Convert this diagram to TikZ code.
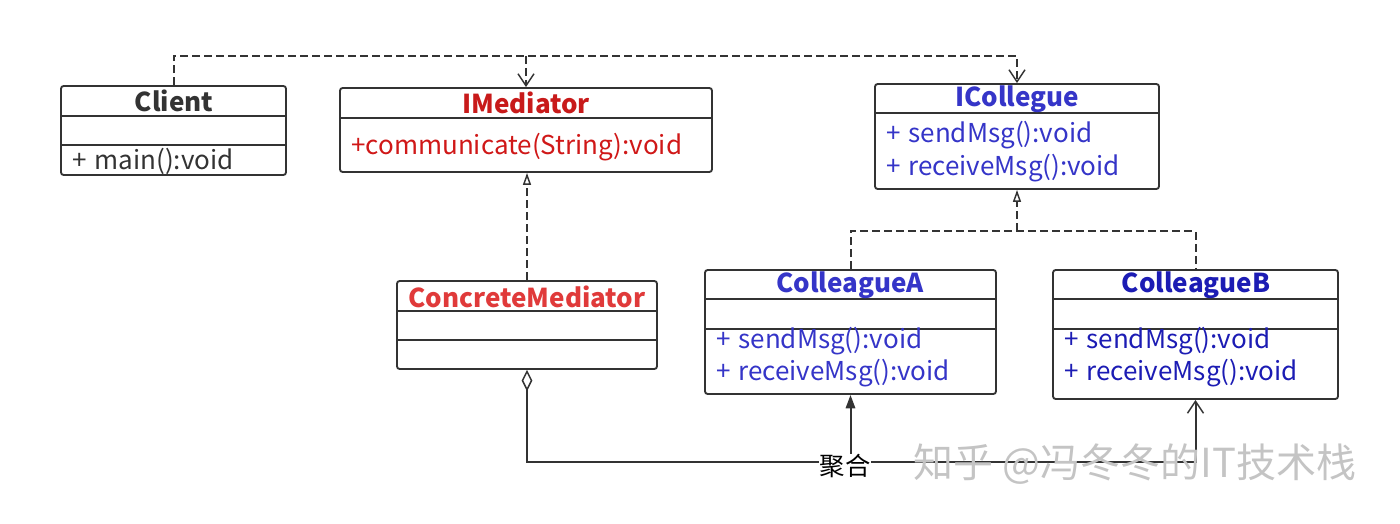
\documentclass[tikz,border=0pt]{standalone}
\usepackage{fontspec}
\setmainfont{Noto Sans CJK SC}
\usetikzlibrary{arrows.meta,fit}
\definecolor{ln}{HTML}{333333}
\definecolor{rdark}{HTML}{C81A1A}
\definecolor{rtext}{HTML}{D01818}
\definecolor{rlight}{HTML}{E03A3A}
\definecolor{bl}{HTML}{3535C8}
\definecolor{bldark}{HTML}{1C1CB4}
\definecolor{wmgray}{HTML}{C4C4C4}
\newcommand{\pl}{+\hspace{0.3em}}
\tikzset{
  umlbox/.style={draw=ln, line width=1.4pt, rounded corners=2pt, inner sep=0pt, fill=white},
  sep/.style={draw=ln, line width=1.4pt},
  ttl/.style={font=\fontsize{19.5}{21}\selectfont\bfseries, inner sep=0pt, anchor=center},
  mem/.style={font=\fontsize{19.5}{21}\selectfont, inner sep=0pt, anchor=west},
  conn/.style={draw=ln, line width=1.5pt},
  dep/.style={conn, dash pattern=on 6pt off 3pt},
  vtip/.style={-{Straight Barb[length=9pt, width=12pt, line width=1.1pt]}},
  otri/.style={-{Triangle[open, length=9pt, width=6pt, line width=1.1pt]}},
  ftri/.style={-{Triangle[length=10pt, width=7pt]}},
  wm/.style={font=\fontsize{30}{32}\selectfont, inner sep=0pt, text=wmgray}
}
\begin{document}
\begin{tikzpicture}[x=0.75pt, y=-0.75pt]
\useasboundingbox (0,0) rectangle (1400,524);
% boxes
\node[umlbox, fit={(61,86) (286,175)}] (client) {};
\node[umlbox, fit={(340,88) (712,172)}] (imed) {};
\node[umlbox, fit={(875,84) (1159,189)}] (icol) {};
\node[umlbox, fit={(397,281) (657,369)}] (cmed) {};
\node[umlbox, fit={(705,270) (996,394)}] (ca) {};
\node[umlbox, fit={(1053,270) (1338,399)}] (cb) {};
% dividers
\coordinate (c1) at (0,116); \coordinate (c2) at (0,145);
\draw[sep] (client.west |- c1) -- (client.east |- c1);
\draw[sep] (client.west |- c2) -- (client.east |- c2);
\coordinate (m1) at (0,118);
\draw[sep] (imed.west |- m1) -- (imed.east |- m1);
\coordinate (i1) at (0,113);
\draw[sep] (icol.west |- i1) -- (icol.east |- i1);
\coordinate (k1) at (0,311); \coordinate (k2) at (0,340);
\draw[sep] (cmed.west |- k1) -- (cmed.east |- k1);
\draw[sep] (cmed.west |- k2) -- (cmed.east |- k2);
\coordinate (a1) at (0,299); \coordinate (a2) at (0,329);
\draw[sep] (ca.west |- a1) -- (ca.east |- a1);
\draw[sep] (ca.west |- a2) -- (ca.east |- a2);
\draw[sep] (cb.west |- a1) -- (cb.east |- a1);
\draw[sep] (cb.west |- a2) -- (cb.east |- a2);
% texts
\node[ttl, text=ln] (tclient) at (174,101) {Client};
\node[mem, text=ln] (mclient) at (72,161) {\pl main():void};
\node[ttl, text=rdark] (timed) at (526,103) {IMediator};
\node[mem, text=rtext] (mimed) at (351,147) {+communicate(String):void};
\node[ttl, text=bl] (ticol) at (1017,99) {ICollegue};
\node[mem, text=bl] (micol1) at (886,135) {\pl sendMsg():void};
\node[mem, text=bl] (micol2) at (886,168) {\pl receiveMsg():void};
\node[ttl, text=rlight] (tcmed) at (527,297) {ConcreteMediator};
\node[ttl, text=bl] (tca) at (850,285) {ColleagueA};
\node[mem, text=bl] (mca1) at (716,341) {\pl sendMsg():void};
\node[mem, text=bl] (mca2) at (716,373) {\pl receiveMsg():void};
\node[ttl, text=bldark] (tcb) at (1196,285) {ColleagueB};
\node[mem, text=bldark] (mcb1) at (1064,341) {\pl sendMsg():void};
\node[mem, text=bldark] (mcb2) at (1064,373) {\pl receiveMsg():void};
% dependency bus
\coordinate (bus) at (0,56);
\draw[dep, vtip] (client.north) -- (client.north |- bus) -| (icol.north);
\draw[dep, vtip] (imed.north |- bus) -- (imed.north);
% realization IMediator
\draw[dep, otri] (cmed.north) -- (cmed.north |- imed.south);
% realization ICollegue
\coordinate (rbus) at (0,231);
\draw[dep] (ca.north) -- (ca.north |- rbus) -- (cb.north |- rbus) -- (cb.north);
\draw[dep, otri] (icol.south |- rbus) -- (icol.south);
% aggregation
\coordinate (abus) at (0,462);
\draw[conn, {Diamond[open, length=16pt, width=8pt, line width=1.1pt]}-{Straight Barb[length=9pt, width=12pt, line width=1.1pt]}]
  (cmed.south) |- (abus -| cb.south) -- (cb.south);
\draw[conn, ftri] (ca.south |- abus) -- (ca.south);
\node[font=\fontsize{19}{20}\selectfont, text=black, fill=white, inner sep=0.5pt] (agg) at (845,466) {聚合};
% watermark
\node[wm] (wmark) at (1135,464) {知乎 @冯冬冬的IT技术栈};
\end{tikzpicture}
\end{document}
